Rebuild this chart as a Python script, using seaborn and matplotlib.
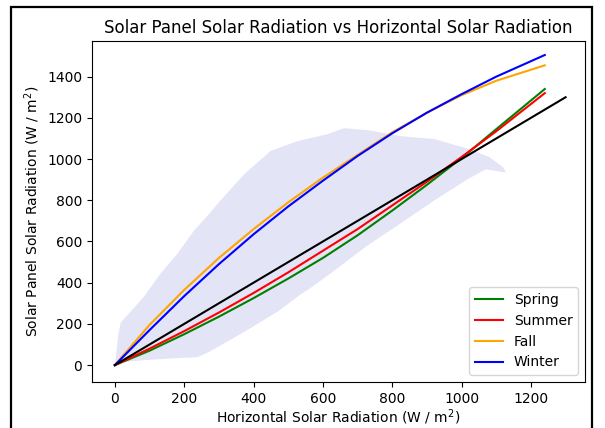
import matplotlib
matplotlib.use("Agg")
import matplotlib.pyplot as plt
import seaborn as sns
import pandas as pd
from matplotlib.patches import Rectangle

# ---- data ----
fit_x = [0, 100, 200, 300, 400, 500, 600, 700, 800, 900, 1000, 1100, 1240]
spring = [0, 70, 150, 235, 325, 420, 520, 630, 750, 875, 1005, 1145, 1340]
summer = [0, 80, 165, 255, 350, 450, 555, 660, 775, 890, 1010, 1135, 1320]
fall = [0, 195, 365, 520, 660, 790, 910, 1020, 1130, 1225, 1310, 1380, 1455]
winter = [0, 170, 335, 490, 635, 770, 895, 1015, 1125, 1225, 1315, 1400, 1505]
ref_x = [0, 1300]
ref_y = [0, 1300]

# envelope of the scatter cloud (upper edge then lower edge)
cloud_upper_x = [0, 10, 17, 43, 84, 133, 180, 227, 275, 304, 374, 449, 527, 614, 661, 730, 826, 922, 1020, 1080, 1120, 1128]
cloud_upper_y = [0, 150, 207, 255, 332, 447, 540, 650, 740, 798, 928, 1039, 1087, 1121, 1150, 1140, 1111, 1097, 1049, 1010, 960, 935]
cloud_lower_x = [0, 27, 84, 180, 238, 275, 371, 470, 533, 565, 630, 728, 826, 922, 1020, 1070, 1128]
cloud_lower_y = [0, 15, 24, 34, 38, 67, 159, 260, 340, 375, 455, 580, 690, 800, 905, 950, 935]

seasons = ["Spring", "Summer", "Fall", "Winter"]
colors = ["green", "red", "orange", "blue"]

fig = plt.figure(figsize=(6.05, 4.28), dpi=100)
ax = fig.add_axes([92/605, 1-382/428, (585-92)/605, (382-41)/428])

# scatter cloud
poly_x = cloud_upper_x + cloud_lower_x[::-1]
poly_y = cloud_upper_y + cloud_lower_y[::-1]
ax.fill(poly_x, poly_y, color="#e4e4f7", lw=0, zorder=1)

df = pd.DataFrame({"x": fit_x * 4,
                   "y": spring + summer + fall + winter,
                   "season": sum([[s] * len(fit_x) for s in seasons], [])})
sns.lineplot(data=df, x="x", y="y", hue="season", palette=dict(zip(seasons, colors)),
             hue_order=seasons, ax=ax, lw=1.5, zorder=3, estimator=None, sort=False)
sns.lineplot(x=ref_x, y=ref_y, color="black", ax=ax, lw=1.5, zorder=3, legend=False)

ax.set_xlim(-66, 1356)
ax.set_ylim(-82, 1573)
ax.set_xticks([0, 200, 400, 600, 800, 1000, 1200])
ax.set_yticks([0, 200, 400, 600, 800, 1000, 1200, 1400])
ax.tick_params(labelsize=10)
ax.set_xlabel("Horizontal Solar Radiation (W / m$^2$)", fontsize=10, labelpad=1)
ax.set_ylabel("Solar Panel Solar Radiation (W / m$^2$)", fontsize=10)
ax.set_title("Solar Panel Solar Radiation vs Horizontal Solar Radiation", fontsize=12)

leg = ax.legend(loc="lower right", fontsize=10)
leg.set_title(None)

# screenshot frame
fig.patches.append(Rectangle((11/605, -0.05), (592-11)/605, 1.05 - 7/428,
                             transform=fig.transFigure, fill=False, ec="black", lw=1.6))

fig.savefig("out.png", dpi=100)
